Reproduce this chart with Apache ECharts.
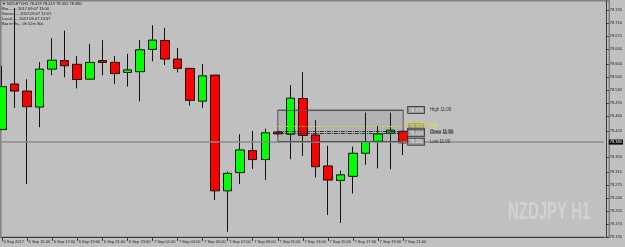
<!DOCTYPE html>
<html><head><meta charset="utf-8">
<script src="https://cdn.jsdelivr.net/npm/echarts@6/dist/echarts.min.js"></script>
<style>html,body{margin:0;padding:0;background:#c0c0c0}#c{width:625px;height:247px}</style>
</head><body><div id="c"></div>
<script>
// ---- data ----
const times = ['6 Sep 13:00','6 Sep 14:00','6 Sep 15:00','6 Sep 16:00','6 Sep 17:00','6 Sep 18:00','6 Sep 19:00','6 Sep 20:00',
  '6 Sep 21:00','6 Sep 22:00','6 Sep 23:00','7 Sep 00:00','7 Sep 01:00','7 Sep 02:00','7 Sep 03:00','7 Sep 04:00',
  '7 Sep 05:00','7 Sep 06:00','7 Sep 07:00','7 Sep 08:00','7 Sep 09:00','7 Sep 10:00','7 Sep 11:00','7 Sep 12:00',
  '7 Sep 13:00','7 Sep 14:00','7 Sep 15:00','7 Sep 16:00','7 Sep 17:00','7 Sep 18:00','7 Sep 19:00','7 Sep 20:00','7 Sep 21:00'];
const firstLabel = '6 Sep 2017';
const futureSlots = 16;
const opens  = [78.424,78.546,78.527,78.484,78.586,78.609,78.599,78.559,78.609,78.604,78.577,78.579,78.639,78.663,78.613,78.588,
  78.500,78.570,78.259,78.308,78.367,78.343,78.417,78.411,78.507,78.409,78.326,78.287,78.298,78.360,78.392,78.414,78.419];
const highs  = [78.595,78.750,78.559,78.605,78.669,78.689,78.621,78.654,78.664,78.621,78.627,78.664,78.704,78.697,78.643,78.588,
  78.600,78.570,78.311,78.411,78.420,78.426,78.419,78.543,78.578,78.449,78.380,78.313,78.378,78.469,78.433,78.469,78.420];
const lows   = [78.422,78.482,78.277,78.430,78.570,78.564,78.534,78.557,78.569,78.546,78.539,78.499,78.607,78.597,78.577,78.488,
  78.482,78.234,78.149,78.277,78.318,78.288,78.410,78.344,78.353,78.295,78.194,78.173,78.252,78.329,78.319,78.317,78.355];
const closes = [78.539,78.527,78.485,78.586,78.610,78.595,78.558,78.604,78.604,78.574,78.584,78.638,78.664,78.613,78.588,78.502,
  78.568,78.259,78.306,78.369,78.343,78.415,78.412,78.508,78.408,78.324,78.288,78.302,78.360,78.391,78.412,78.422,78.388];
const yTicks = [78.745,78.710,78.675,78.640,78.600,78.565,78.530,78.495,78.460,78.420,78.350,78.310,78.275,78.240,78.205,78.170,78.135];
const yMin = 78.135, yMax = 78.769;
const bidPrice = 78.388, bidLabel = '78.380';
const rangeFrom = 22, rangeTo = 32;
const rangeHigh = 78.476, rangeMid = 78.433, rangeOpen = 78.418, rangeClose = 78.414, rangeLow = 78.391;
const infoLines = ['\u25BC NZDJPY,H1 78.419 78.419 78.355 78.380','Bar........ 2017.09.07 11:00',
  'Server..... 2017.09.07 12:07','Local...... 2017.09.07 13:07','Bar ends... 0h 52m 30s'];
const watermark = 'NZDJPY H1';

// ---- build ----
const cats = times.concat(Array.from({length: futureSlots}, (_, i) => 'f' + i));
const candles = times.map((t, i) => [opens[i], closes[i], lows[i], highs[i]]);
const showIdx = (i) => i % 2 === 0 && i < times.length;
const FONT = 'Liberation Sans';

function lvl(value, name, color, type, valColor, boxBorder, nameColor) {
  return [{ coord: [rangeFrom, value] }, { coord: [rangeTo, value],
    lineStyle: { color: color, width: 1, type: type },
    label: { show: true, position: 'end', distance: 5, fontFamily: FONT,
      formatter: '{b|' + value.toFixed(3) + '}{t|' + name + '}',
      rich: {
        b: { backgroundColor: '#9c9c9c', borderColor: boxBorder, borderWidth: 1, color: valColor, fontSize: 4.5, padding: [1, 1, 0, 1], fontFamily: FONT },
        t: { color: nameColor, fontSize: 4.5, padding: [0, 0, 0, 6], fontFamily: FONT }
      } } }];
}

const chart = echarts.init(document.getElementById('c'), null, { renderer: 'canvas' });
chart.setOption({
  backgroundColor: '#c0c0c0',
  animation: false,
  grid: { left: 2, right: 18, top: 1, bottom: 10, containLabel: false },
  xAxis: {
    type: 'category', data: cats, boundaryGap: false,
    axisLine: { show: true, lineStyle: { color: '#3a3a3a', width: 1 } },
    axisTick: { show: true, length: 4, interval: (i) => showIdx(i), lineStyle: { color: '#3a3a3a' } },
    axisLabel: { interval: (i) => showIdx(i), formatter: (v, i) => i === 0 ? firstLabel : v,
      fontSize: 4, color: '#222', align: 'left', margin: 3, padding: [0, 0, 0, 1.5], fontFamily: FONT },
    splitLine: { show: false }
  },
  yAxis: {
    type: 'value', position: 'right', offset: 2, min: yMin, max: yMax, scale: true,
    axisLine: { show: true, lineStyle: { color: '#3a3a3a', width: 1 } },
    axisTick: { show: true, length: 3, customValues: yTicks, lineStyle: { color: '#3a3a3a' } },
    axisLabel: { customValues: yTicks, formatter: (v) => Number(v).toFixed(3), fontSize: 4, color: '#222',
      align: 'left', margin: 4, fontFamily: FONT },
    splitLine: { show: false }
  },
  series: [
    {
      type: 'line', data: [], z: 1, silent: true,
      markArea: { silent: true, itemStyle: { color: '#b2b2b2', borderColor: '#555', borderWidth: 1 },
        data: [[{ coord: [rangeFrom, rangeHigh] }, { coord: [rangeTo, rangeLow] }]] },
      markLine: { silent: true, symbol: ['none', 'none'], animation: false,
        data: [
          { yAxis: bidPrice, lineStyle: { color: '#8a8a8a', width: 1.5, type: 'solid' },
            label: { show: true, position: 'end', distance: 5, formatter: bidLabel, backgroundColor: '#000', color: '#fff',
              fontSize: 4, padding: [1, 1, 0, 1], fontFamily: FONT } },
          lvl(rangeHigh, 'High 11:00', '#555', 'solid', '#eee', '#444', '#333'),
          lvl(rangeMid, 'Mid', '#d8d830', [3, 2, 1, 2], '#f0f040', '#d8d830', '#e0e030'),
          lvl(rangeOpen, 'Open 11:00', '#303030', [4, 1, 1, 1], '#eee', '#444', '#333'),
          lvl(rangeClose, 'Close 11:00', '#303030', [4, 1, 1, 1], '#eee', '#444', '#333'),
          lvl(rangeLow, 'Low 11:00', '#555', 'solid', '#eee', '#444', '#333')
        ] }
    },
    {
      type: 'candlestick', data: candles, barWidth: 9, clip: false, z: 3,
      itemStyle: { color: '#00ff00', color0: '#ff0000', borderColor: '#111', borderColor0: '#111', borderWidth: 1 }
    }
  ],
  graphic: [
    { type: 'rect', shape: { x: 0.75, y: 0.75, width: 608.5, height: 236.5 }, style: { fill: null, stroke: '#808080', lineWidth: 1.5 }, z: 0, silent: true },
    { type: 'text', x: 508, y: 201, z: 0, silent: true, scaleX: 0.65,
      style: { text: watermark, font: 'bold 23px "Liberation Sans Narrow", "Liberation Sans", sans-serif', fill: '#d2d2d2' } }
  ].concat(infoLines.map((s, i) => ({ type: 'text', left: 2, top: [2, 7.3, 12, 17, 21.7][i], z: 10, silent: true,
      style: { text: s, font: '4px ' + FONT, fill: '#111' } })))
});
</script></body></html>
